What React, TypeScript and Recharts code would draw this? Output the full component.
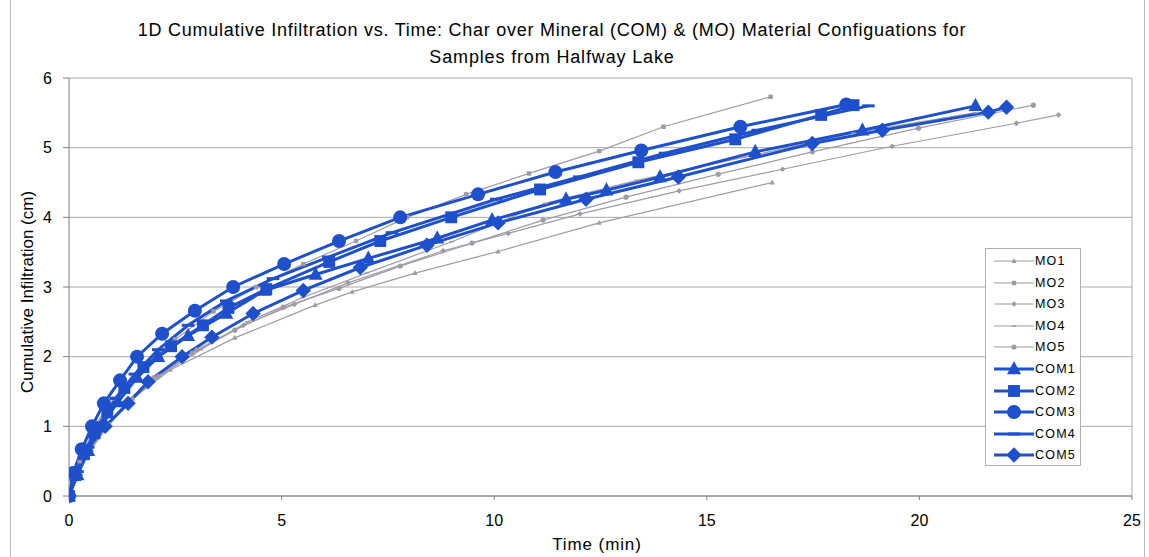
import React from "react";
import { LineChart, Line, XAxis, YAxis, CartesianGrid, ReferenceLine } from "recharts";

// ---- Data (time in min, cumulative infiltration in cm) ----
const MO1_T = [0, 0.2, 0.5, 0.9, 1.5, 2.38, 3.9, 5.79, 6.66, 8.14, 10.09, 12.47, 16.54];
const MO1_I = [0, 0.3, 0.65, 1.0, 1.4, 1.81, 2.27, 2.74, 2.93, 3.2, 3.51, 3.92, 4.5];

const MO2_T = [0, 0.25, 0.6, 1.05, 1.7, 2.5, 3.4, 4.4, 5.51, 6.75, 7.95, 9.34, 10.82, 12.47, 13.98, 16.5];
const MO2_I = [0, 0.5, 1.0, 1.4, 1.85, 2.25, 2.65, 3.0, 3.33, 3.66, 4.0, 4.33, 4.63, 4.95, 5.3, 5.73];

const MO3_T = [0, 0.2, 0.5, 0.9, 1.4, 2.1, 3.0, 4.1, 5.3, 6.56, 8.8, 10.33, 12.02, 14.35, 16.78, 19.36, 22.28, 23.27];
const MO3_I = [0, 0.3, 0.65, 1.0, 1.35, 1.72, 2.1, 2.45, 2.75, 3.06, 3.52, 3.77, 4.05, 4.38, 4.69, 5.02, 5.35, 5.47];

const MO4_T = [0, 0.2, 0.5, 0.95, 1.5, 2.2, 3.1, 4.2, 5.5, 7.0, 9.0, 11.2, 13.36, 15.86, 18.45, 21.3];
const MO4_I = [0, 0.35, 0.7, 1.05, 1.4, 1.75, 2.1, 2.5, 2.85, 3.2, 3.65, 4.2, 4.53, 4.86, 5.21, 5.5];

const MO5_T = [0, 0.2, 0.5, 0.9, 1.4, 2.0, 2.9, 3.9, 5.04, 6.35, 7.79, 9.48, 11.15, 13.1, 15.27, 17.48, 19.98, 22.68];
const MO5_I = [0, 0.32, 0.68, 1.02, 1.38, 1.7, 2.05, 2.38, 2.71, 2.98, 3.3, 3.63, 3.96, 4.29, 4.62, 4.94, 5.28, 5.61];

const COM1_T = [0, 0.2, 0.45, 0.75, 1.15, 1.6, 2.1, 2.8, 3.7, 4.6, 5.8, 7.04, 8.66, 9.95, 11.69, 12.64, 13.9, 16.14, 18.66, 21.32];
const COM1_I = [0, 0.3, 0.65, 1.0, 1.35, 1.7, 2.0, 2.3, 2.62, 2.95, 3.18, 3.41, 3.7, 3.96, 4.26, 4.39, 4.58, 4.94, 5.25, 5.6];

const COM2_T = [0, 0.15, 0.35, 0.6, 0.9, 1.3, 1.75, 2.4, 3.15, 3.75, 4.64, 6.12, 7.32, 8.99, 11.08, 13.39, 15.67, 17.69, 18.45];
const COM2_I = [0, 0.3, 0.6, 0.9, 1.2, 1.55, 1.85, 2.15, 2.45, 2.7, 2.97, 3.36, 3.66, 4.0, 4.4, 4.79, 5.12, 5.47, 5.61];

const COM3_T = [0, 0.1, 0.3, 0.54, 0.82, 1.2, 1.6, 2.19, 2.96, 3.86, 5.06, 6.35, 7.79, 9.62, 11.44, 13.46, 15.79, 18.28];
const COM3_I = [0, 0.33, 0.67, 1.0, 1.33, 1.66, 2.0, 2.33, 2.66, 3.0, 3.33, 3.66, 4.0, 4.33, 4.65, 4.96, 5.3, 5.62];

const COM4_T = [0, 0.2, 0.45, 0.75, 1.1, 1.55, 2.1, 2.8, 3.7, 4.8, 6.1, 7.6, 10.05, 12.0, 14.02, 16.2, 18.8];
const COM4_I = [0, 0.35, 0.7, 1.05, 1.4, 1.75, 2.1, 2.45, 2.8, 3.12, 3.43, 3.78, 4.26, 4.58, 4.92, 5.25, 5.6];

const COM5_T = [0, 0.15, 0.4, 0.85, 1.39, 1.86, 2.66, 3.36, 4.33, 5.51, 6.85, 8.42, 10.09, 12.16, 14.33, 17.48, 19.13, 21.62, 22.05];
const COM5_I = [0, 0.3, 0.65, 1.0, 1.33, 1.64, 2.0, 2.28, 2.62, 2.95, 3.28, 3.6, 3.92, 4.26, 4.58, 5.06, 5.25, 5.51, 5.58];

const X_TICKS = [0, 5, 10, 15, 20, 25];
const Y_TICKS = [0, 1, 2, 3, 4, 5, 6];

const TITLE_1 = "1D Cumulative Infiltration vs. Time: Char over Mineral (COM) & (MO) Material Configuations for";
const TITLE_2 = "Samples from Halfway Lake";
const X_LABEL = "Time (min)";
const Y_LABEL = "Cumulative Infiltration (cm)";

const GRAY = "#a09aa6";
const BLUE = "#1f50cc";
const FONT = "'Liberation Sans', Arial, sans-serif";

type Shape = "triangle" | "square" | "circle" | "dash" | "diamond";

const build = (t: number[], v: number[]) => t.map((x, i) => ({ t: x, v: v[i] }));

const SERIES: { name: string; data: { t: number; v: number }[]; shape: Shape; big: boolean }[] = [
  { name: "MO1", data: build(MO1_T, MO1_I), shape: "triangle", big: false },
  { name: "MO2", data: build(MO2_T, MO2_I), shape: "square", big: false },
  { name: "MO3", data: build(MO3_T, MO3_I), shape: "diamond", big: false },
  { name: "MO4", data: build(MO4_T, MO4_I), shape: "dash", big: false },
  { name: "MO5", data: build(MO5_T, MO5_I), shape: "circle", big: false },
  { name: "COM1", data: build(COM1_T, COM1_I), shape: "triangle", big: true },
  { name: "COM2", data: build(COM2_T, COM2_I), shape: "square", big: true },
  { name: "COM3", data: build(COM3_T, COM3_I), shape: "circle", big: true },
  { name: "COM4", data: build(COM4_T, COM4_I), shape: "dash", big: true },
  { name: "COM5", data: build(COM5_T, COM5_I), shape: "diamond", big: true },
];

function Marker({ cx, cy, shape, big }: { cx: number; cy: number; shape: Shape; big: boolean }) {
  const color = big ? BLUE : GRAY;
  const s = big ? 7 : 2.6;
  if (cx == null || cy == null || isNaN(cx) || isNaN(cy)) return null;
  switch (shape) {
    case "triangle":
      return <polygon points={`${cx},${cy - s * 1.15} ${cx + s},${cy + s * 0.75} ${cx - s},${cy + s * 0.75}`} fill={color} />;
    case "square":
      return <rect x={cx - s * 0.85} y={cy - s * 0.85} width={s * 1.7} height={s * 1.7} fill={color} />;
    case "circle":
      return <circle cx={cx} cy={cy} r={s} fill={color} />;
    case "diamond":
      return <polygon points={`${cx},${cy - s * 1.1} ${cx + s * 1.1},${cy} ${cx},${cy + s * 1.1} ${cx - s * 1.1},${cy}`} fill={color} />;
    case "dash":
      return <line x1={cx - s * 0.9} x2={cx + s * 0.9} y1={cy} y2={cy} stroke={color} strokeWidth={big ? 3 : 1.5} />;
  }
  return null;
}

function LegendBox() {
  return (
    <div
      style={{
        position: "absolute",
        left: 985,
        top: 248,
        width: 96,
        height: 218,
        border: "1px solid #b0b0b0",
        background: "#fff",
        boxSizing: "border-box",
        fontFamily: FONT,
        fontSize: 12.5,
      }}
    >
      {SERIES.map((s, i) => (
        <div key={s.name} style={{ position: "absolute", left: 6, top: 2 + i * 21.6, height: 20, display: "flex", alignItems: "center" }}>
          <svg width={42} height={20} style={{ display: "block" }}>
            <line x1={2} x2={42} y1={10} y2={10} stroke={s.big ? BLUE : GRAY} strokeWidth={s.big ? 3 : 1.2} />
            <Marker cx={22} cy={10} shape={s.shape} big={s.big} />
          </svg>
          <span style={{ marginLeft: 1, color: "#000", letterSpacing: 1.2 }}>{s.name}</span>
        </div>
      ))}
    </div>
  );
}

export default function App() {
  return (
    <div style={{ position: "absolute", left: 0, top: 0, width: 1149, height: 557, background: "#fff", fontFamily: FONT }}>
      <div style={{ position: "absolute", left: 10, top: 0, width: 1, height: 557, background: "#b8b8b8" }} />
      <div style={{ position: "absolute", left: 1144, top: 0, width: 1, height: 557, background: "#b8b8b8" }} />
      <div style={{ position: "absolute", left: 0, width: 1104, top: 19, textAlign: "center", fontSize: 18, letterSpacing: 0.75, lineHeight: "22px", color: "#000", whiteSpace: "nowrap" }}>
        {TITLE_1}
      </div>
      <div style={{ position: "absolute", left: 0, width: 1104, top: 46, textAlign: "center", fontSize: 18, letterSpacing: 0.85, lineHeight: "22px", color: "#000" }}>
        {TITLE_2}
      </div>
      <div style={{ position: "absolute", left: 0, top: 0 }}>
        <LineChart width={1149} height={557} margin={{ top: 78, right: 17, bottom: 0, left: 0 }}>
          <CartesianGrid horizontal={true} vertical={false} stroke="#a8a8a8" strokeWidth={1} />
          <XAxis
            dataKey="t"
            type="number"
            domain={[0, 25]}
            ticks={X_TICKS}
            allowDataOverflow
            height={61}
            tickSize={4}
            tickMargin={15}
            tick={{ fontSize: 16, fill: "#000", fontFamily: FONT }}
            axisLine={{ stroke: "#808080" }}
            tickLine={{ stroke: "#808080" }}
          />
          <YAxis
            type="number"
            domain={[0, 6]}
            ticks={Y_TICKS}
            width={69}
            tickSize={6}
            tickMargin={11}
            tick={{ fontSize: 16, fill: "#000", fontFamily: FONT }}
            axisLine={{ stroke: "#808080" }}
            tickLine={{ stroke: "#808080" }}
          />
          <ReferenceLine x={25} stroke="#a8a8a8" />
          {SERIES.map((s) => (
            <Line
              key={s.name}
              name={s.name}
              data={s.data}
              dataKey="v"
              type="linear"
              stroke={s.big ? BLUE : GRAY}
              strokeWidth={s.big ? 3 : 1.2}
              isAnimationActive={false}
              dot={(p: any) => <Marker key={`${s.name}-${p.index}`} cx={p.cx} cy={p.cy} shape={s.shape} big={s.big} />}
              activeDot={false}
            />
          ))}
        </LineChart>
      </div>
      <div style={{ position: "absolute", left: 467, width: 260, top: 535, textAlign: "center", fontSize: 17, letterSpacing: 0.9, color: "#000" }}>{X_LABEL}</div>
      <div
        style={{
          position: "absolute",
          left: 28,
          top: 292,
          transform: "translate(-50%, -50%) rotate(-90deg)",
          whiteSpace: "nowrap",
          fontSize: 17,
          color: "#000",
        }}
      >
        {Y_LABEL}
      </div>
      <LegendBox />
    </div>
  );
}
